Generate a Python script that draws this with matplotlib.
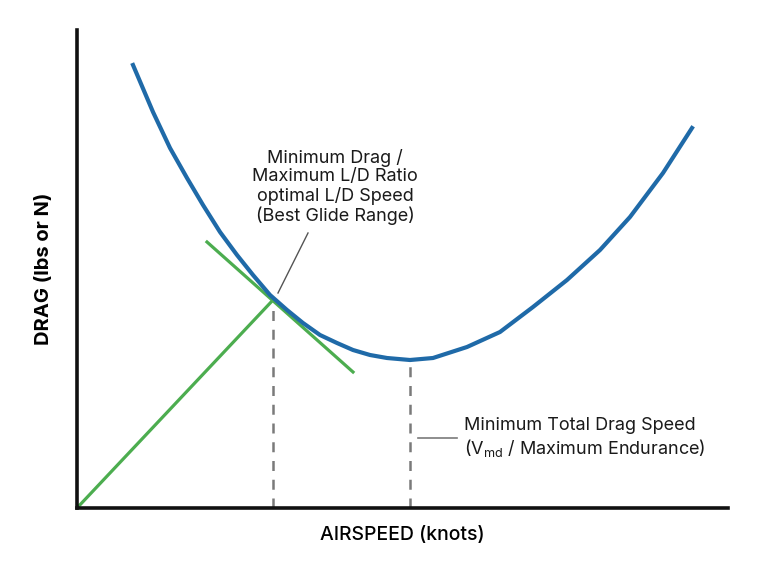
import matplotlib.pyplot as plt

# drag curve (arbitrary units, origin at axes corner)
airspeed = [56, 76, 93, 110, 126, 143, 160, 176, 193, 210, 226, 243, 260,
            276, 293, 310, 333, 356, 390, 423, 456, 490, 523, 553, 586, 615]
drag = [443, 396, 360, 330, 303, 276, 253, 233, 213, 198, 185, 173, 165,
        158, 153, 150, 148, 150, 161, 176, 201, 228, 258, 291, 335, 380]

# green construction lines
origin_line_x = [0, 196]
origin_line_y = [0, 208]
tangent_x = [130, 276]
tangent_y = [266, 136]

# speed markers
v_ld = 196
v_ld_top = 198
v_md = 333
v_md_top = 144

BLUE = "#1f6aa8"
GREEN = "#4cad4f"
GREY = "#7a7a7a"

plt.rcParams["font.family"] = ["Inter", "DejaVu Sans"]
plt.rcParams["mathtext.fontset"] = "custom"
plt.rcParams["mathtext.rm"] = "Inter"


def main() -> None:
    fig = plt.figure(figsize=(7.68, 5.73), dpi=100)
    ax = fig.add_axes([77 / 768, 65 / 573, 651 / 768, 478 / 573])
    ax.set_xlim(0, 651)
    ax.set_ylim(0, 478)

    ax.plot(origin_line_x, origin_line_y, color=GREEN, lw=2.3,
            solid_capstyle="butt", zorder=2)
    ax.plot(tangent_x, tangent_y, color=GREEN, lw=2.3, zorder=2)
    ax.plot(airspeed, drag, color=BLUE, lw=3.0, zorder=3,
            solid_joinstyle="round")

    ax.plot([v_ld, v_ld], [0, v_ld_top], color=GREY, lw=1.8,
            dashes=(4, 3.5), zorder=1)
    ax.plot([v_md, v_md], [0, v_md_top], color=GREY, lw=1.8,
            dashes=(4, 3.5), zorder=1)

    # leader lines
    ax.plot([231, 201], [275, 215], color="#555555", lw=1.0)
    ax.plot([341, 380], [70, 70], color=GREY, lw=1.2)

    ax.text(258, 321, "Minimum Drag /\nMaximum L/D Ratio\noptimal L/D Speed\n(Best Glide Range)",
            ha="center", va="center", fontsize=13, color="#1a1a1a",
            linespacing=1.1)
    ax.text(387, 70, "Minimum Total Drag Speed\n(V$_{\\mathrm{md}}$ / Maximum Endurance)",
            ha="left", va="center", fontsize=13, color="#1a1a1a",
            linespacing=1.15)

    for side in ("top", "right"):
        ax.spines[side].set_visible(False)
    for side in ("left", "bottom"):
        ax.spines[side].set_linewidth(2.6)
        ax.spines[side].set_color("#111111")
    ax.set_xticks([])
    ax.set_yticks([])

    ax.set_xlabel("AIRSPEED (knots)", fontsize=14, fontweight="medium",
                  labelpad=13)
    ax.set_ylabel("DRAG (lbs or N)", fontsize=14.5, fontweight="bold",
                  labelpad=17)

    fig.savefig("out.png", dpi=100)
    plt.close(fig)


if __name__ == "__main__":
    main()
